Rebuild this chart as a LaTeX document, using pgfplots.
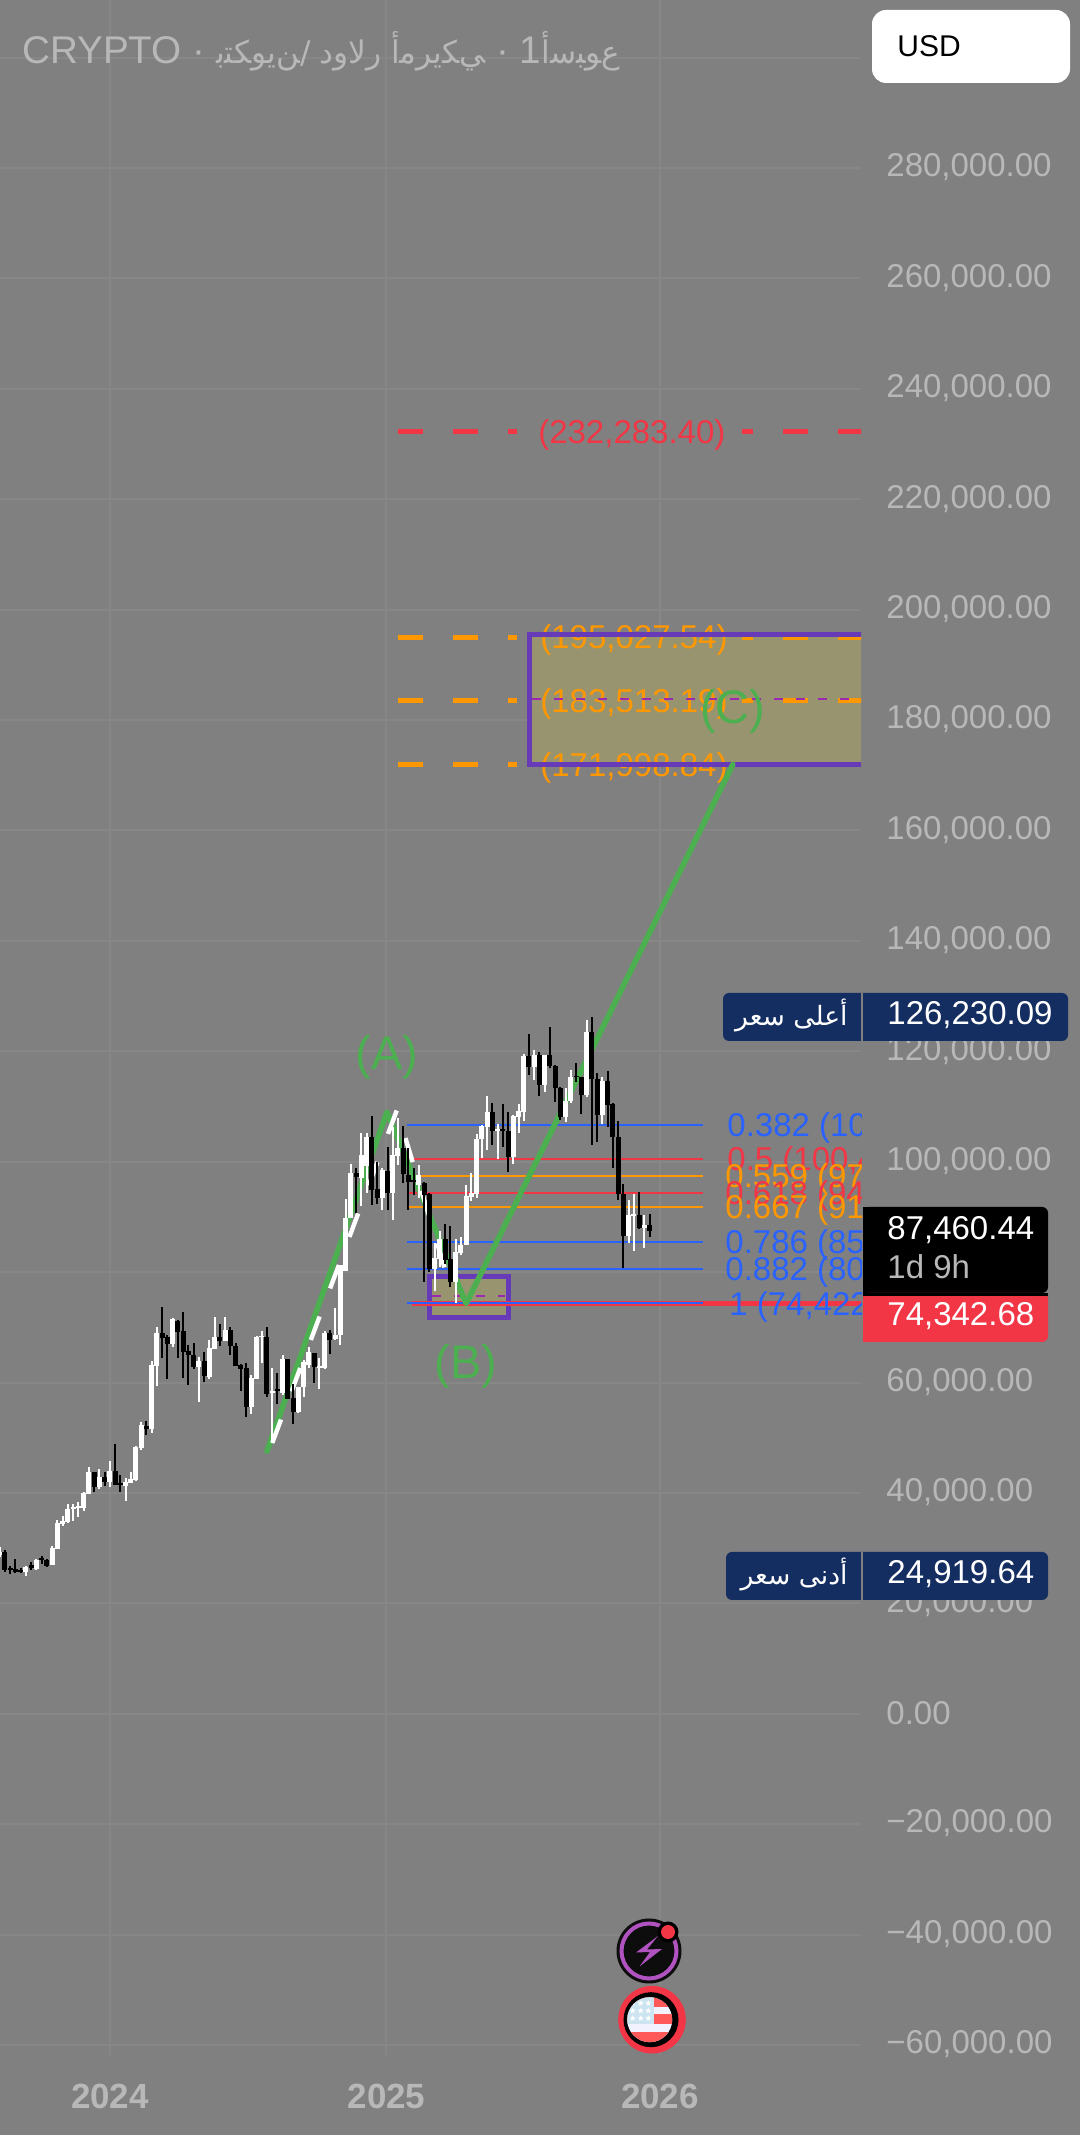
\documentclass[border=0pt]{standalone}
\usepackage{fontspec}
\usepackage{pgfplots}
\usepackage{pgfplotstable}
\usetikzlibrary{shapes.geometric}
\pgfplotsset{compat=1.18}
\setmainfont{Liberation Sans}
\newfontfamily\arabicfont[Script=Arabic]{DejaVu Sans}
\TeXXeTstate=1

\definecolor{pane}{HTML}{808080}
\definecolor{gridc}{HTML}{878787}
\definecolor{axistxt}{HTML}{B8B8B8}
\definecolor{orangec}{HTML}{FF9800}
\definecolor{redc}{HTML}{F23645}
\definecolor{bluec}{HTML}{2962FF}
\definecolor{greenc}{HTML}{4CAF50}
\definecolor{boxc}{HTML}{673AB7}
\definecolor{midc}{HTML}{9C27B0}
\definecolor{tan}{HTML}{999470}
\definecolor{navy}{HTML}{142E61}

% 1 px of the reference is 0.5pt here
\newcommand{\lbl}{\fontsize{16.5}{18}\selectfont}
\newcommand{\g}[1]{\char"#1\kern0pt }
\newcommand{\lab}[4]{\node[anchor=base west,inner sep=0pt,text=#1] at (#2,#3) {\lbl #4};}

% weekly candles, k = week index, x px = 5 + 5.24 k
\pgfplotstableread{
k o h l c
-1 28758 30268 28457 29362
4 25740 26766 24955 26645
6 26162 27974 26041 27853
9 26947 30388 26947 30087
10 29906 35098 29906 34495
11 34313 35823 34011 34917
12 34736 37997 34615 37030
13 37030 37997 34977 37393
14 37272 38359 35702 37634
15 37212 40170 36789 40049
16 39808 44638 39808 43793
18 41136 44276 40653 42827
20 41982 45725 41016 43914
23 41257 42646 38600 42042
24 41861 43793 41861 42465
25 42344 48503 42223 48382
26 48080 52850 47778 52246
28 51522 63839 50918 63175
29 62994 69998 59371 69032
32 66979 71689 66496 71447
37 62873 64564 56533 63839
39 61062 67704 60700 66194
40 66134 71809 66134 68307
42 67583 71809 67583 69515
47 55628 61364 54299 60760
48 60700 68428 60700 68187
49 68187 69394 63477 68428
51 58043 62572 48986 58526
53 58043 64926 57741 64322
56 54662 59130 54541 59130
57 59130 64081 57439 63779
58 63115 66375 62632 65530
60 62692 64443 58888 62994
61 62632 69274 62511 69032
63 67825 73440 67704 68609
64 68610 81290 66799 81290
65 80263 93185 80263 89743
66 89743 99585 89743 98015
68 97049 105200 91977 101215
69 99222 105200 94332 104475
72 93426 98860 91252 98498
74 94332 106287 89441 101215
75 101034 107917 99403 102483
79 95780 99404 93365 97592
82 80505 85214 76640 82497
83 82316 87508 80987 85939
86 78270 85939 74466 83706
87 83403 86301 83101 84912
88 84912 95780 84912 93788
89 93667 97894 92942 94271
90 94150 105019 93365 104113
91 104052 106649 100611 106468
92 106347 111902 102120 108943
94 105622 106830 100430 105924
97 100913 108460 99585 108340
98 108159 110453 105260 109185
99 109064 119510 107434 119147
101 117095 120234 114800 119268
103 113894 119329 112687 119268
107 108158 113290 107252 111056
108 111056 116611 110694 115283
111 112083 125668 111660 123555
114 108460 115283 106830 114679
119 86603 93063 85214 90346
120 90165 94150 83886 90527
122 88052 90346 84429 88535
}\upcandles

\pgfplotstableread{
k o h l c
0 29362 29664 25740 26041
1 26343 26766 25317 26041
2 26162 27974 25438 25740
3 26041 26343 25438 25740
5 26947 27551 26041 26343
7 28155 28578 27129 27853
8 27853 27974 26645 26766
17 43733 43854 40170 41136
19 42827 43793 41257 42042
21 43914 48865 41438 41499
22 41740 43310 40170 41499
27 52126 52971 50495 51642
30 68911 73621 64443 68066
31 68187 68670 60700 66979
33 71206 71326 64443 69213
34 69274 72776 60820 65590
35 65651 66738 59613 64926
36 64926 67100 62511 62873
38 63839 65530 60096 61183
41 68307 70602 66617 67583
43 69515 69998 65047 66617
44 66617 67100 62994 62994
45 63175 63356 58526 62511
46 62572 63597 53695 55628
50 68187 69998 57318 57923
52 58767 61666 56111 58526
54 64202 64322 57077 57077
55 57137 59733 52488 54722
59 65409 65409 59975 62752
62 68911 69515 65168 67704
67 97894 98800 90649 97170
70 104475 108279 92158 94875
71 95056 99947 92339 93426
73 98317 102664 91252 94332
76 102483 106468 96143 97773
77 97592 102422 91252 96384
78 96686 98800 93969 96384
80 96083 96384 78270 93969
81 94150 94270 80082 80505
84 85939 88716 81470 82195
85 82316 88353 77243 78270
93 108943 110573 103026 105622
95 105924 110453 102724 105622
96 105562 109003 98195 100913
100 119147 123132 115706 117095
102 119268 119932 111902 113894
104 119268 124461 116913 117336
105 117396 117517 110875 113290
106 113290 113472 107554 108158
109 115524 117819 114498 115283
110 115283 115404 108641 112083
112 123555 126151 103026 114921
113 114921 116008 103630 108460
115 114619 116430 106347 110272
116 110453 110573 98920 104535
117 104535 107373 93063 94150
118 94150 95962 80685 86603
121 90346 94573 87750 87931
123 88535 90527 86421 87460
}\downcandles

\pgfplotsset{
  wick/.style={draw=none,no marks,forget plot,
    error bars/.cd,y dir=plus,y explicit,error mark=none,
    error bar style={draw=#1,solid,line width=1pt}},
  body/.style={draw=none,no marks,forget plot,
    error bars/.cd,y dir=plus,y explicit,error mark=none,
    error bar style={draw=#1,solid,line width=2.5pt}},
  level/.style={forget plot,no marks,line width=1pt,draw=#1},
}

\begin{document}
\begin{tikzpicture}
\path[use as bounding box,fill=pane] (0,0) rectangle (540pt,1067.5pt);
\begin{axis}[
    at={(0pt,40pt)},anchor=south west,
    scale only axis,width=430.5pt,height=1027.5pt,
    xmin=-0.954,xmax=163.36,ymin=-61811,ymax=310432,
    axis line style={draw=none},
    major tick length=0pt,
    grid=major,
    grid style={draw=gridc,line width=1pt},
    xtick={20.04,72.8,125},
    xticklabels={2024,2025,2026},
    xticklabel style={font=\fontsize{17.5}{18}\selectfont\bfseries,text=axistxt,anchor=base,inner sep=0pt,yshift=-27pt},
    ytick={-60000,-40000,-20000,0,20000,40000,60000,80000,100000,120000,140000,160000,180000,200000,220000,240000,260000,280000,300000},
    yticklabels={{−60,000.00},{−40,000.00},{−20,000.00},{\raisebox{-1.2pt}{0.00}},{20,000.00},{40,000.00},{60,000.00},{80,000.00},{100,000.00},{120,000.00},{140,000.00},{160,000.00},{180,000.00},{200,000.00},{220,000.00},{240,000.00},{260,000.00},{280,000.00},{}},
    yticklabel pos=right,
    yticklabel style={font=\fontsize{16.5}{18}\selectfont,text=axistxt,anchor=base west,inner sep=0pt,xshift=12.5pt,yshift=-4.4pt},
    scaled y ticks=false,
]
% target zones
\addplot[forget plot,draw=none,fill=tan] coordinates {(100.1,195520) (170,195520) (170,171970) (100.1,171970)} -- cycle;
\addplot[forget plot,draw=none,fill=tan] coordinates {(81.1,79206) (96.1,79206) (96.1,71780) (81.1,71780)} -- cycle;

% projected levels
\foreach \col/\val in {redc/232283.40,orangec/195027.54,orangec/183513.19,orangec/171998.84}{
  \edef\tmp{\noexpand\addplot[level=\col,line width=2.5pt,dash pattern=on 12.5pt off 15pt] coordinates {(75,\val) (97.7,\val)};
    \noexpand\addplot[level=\col,line width=2.5pt,dash pattern=on 12.5pt off 15pt,dash phase=7pt] coordinates {(140.6,\val) (170,\val)};}
  \tmp
}
\node[anchor=base west,inner sep=0pt,text=redc] at (axis cs:101.7,230041) {\lbl (232,283.40)};
\node[anchor=base west,inner sep=0pt,text=orangec] at (axis cs:102.1,192907) {\lbl (195,027.54)};
\node[anchor=base west,inner sep=0pt,text=orangec] at (axis cs:102.1,181314) {\lbl (183,513.19)};
\node[anchor=base west,inner sep=0pt,text=orangec] at (axis cs:102.1,169722) {\lbl (171,998.84)};

% zone borders
\addplot[forget plot,draw=boxc,line width=2.5pt] coordinates {(170,195520) (100.1,195520) (100.1,171970) (170,171970)};
\addplot[forget plot,draw=boxc,line width=2.5pt] coordinates {(81.1,79206) (96.1,79206) (96.1,71780) (81.1,71780)} -- cycle;
\addplot[level=midc,dash pattern=on 4.5pt off 6.5pt] coordinates {(100.5,183810) (170,183810)};
\addplot[level=midc,dash pattern=on 4.5pt off 6.5pt] coordinates {(81.5,75670) (95.4,75670)};

% fib levels
\addplot[level=redc,line width=2.5pt] coordinates {(77.6,74240) (170,74240)};
\addplot[level=bluec] coordinates {(76.7,106650) (133.2,106650)};
\addplot[level=redc] coordinates {(76.7,100490) (133.2,100490)};
\addplot[level=orangec] coordinates {(76.7,97410) (133.2,97410)};
\addplot[level=redc] coordinates {(76.7,94380) (133.2,94380)};
\addplot[level=orangec] coordinates {(76.7,91790) (133.2,91790)};
\addplot[level=bluec] coordinates {(76.7,85450) (133.2,85450)};
\addplot[level=bluec] coordinates {(76.7,80560) (133.2,80560)};
\addplot[level=bluec] coordinates {(76.7,74400) (133.2,74400)};

% wave lines
\addplot[forget plot,no marks,draw=greenc,line width=2.8pt,line join=round,line cap=round]
  coordinates {(50,47600) (72.9,109000) (88,74300) (138.9,171950)};
\addplot[forget plot,no marks,draw=white,line width=2.2pt,dash pattern=on 12.5pt off 15pt]
  coordinates {(51,49050) (74.8,109370) (85.3,76400)};

% candles
\addplot[wick=white] table[x=k,y=l,y error plus expr=\thisrow{h}-\thisrow{l}] {\upcandles};
\addplot[body=white] table[x=k,y=o,y error plus expr=\thisrow{c}-\thisrow{o}] {\upcandles};
\addplot[wick=black] table[x=k,y=l,y error plus expr=\thisrow{h}-\thisrow{l}] {\downcandles};
\addplot[body=black] table[x=k,y=c,y error plus expr=\thisrow{o}-\thisrow{c}] {\downcandles};

% wave names
\node[anchor=base,inner sep=0pt,text=greenc] at (axis cs:72.9,116665) {\fontsize{23.5}{25}\selectfont (A)};
\node[anchor=base,inner sep=0pt,text=greenc] at (axis cs:88,60690) {\fontsize{23.5}{25}\selectfont (B)};
\node[anchor=base,inner sep=0pt,text=greenc] at (axis cs:138.9,179340) {\fontsize{23.5}{25}\selectfont (C)};
\end{axis}

% overlays, in reference pixels
\begin{scope}[x=0.5pt,y=-0.5pt,shift={(0pt,-2135)}]
\begin{scope}
\clip (700,1000) rectangle (861,1340);
\lab{bluec}{727}{1137}{0.382 (10}
\lab{redc}{727}{1171}{0.5 (100,4}
\lab{orangec}{725}{1188}{0.559 (97}
\lab{redc}{725}{1205}{0.618 (94}
\lab{orangec}{725}{1219}{0.667 (91}
\lab{bluec}{725}{1254}{0.786 (85}
\lab{bluec}{725}{1281}{0.882 (80}
\lab{bluec}{729}{1316}{1 (74,422}
\end{scope}

% title
\node[anchor=base west,inner sep=0pt,text=axistxt] at (22,63.5) {\fontsize{19.3}{20}\selectfont CRYPTO~·~{\arabicfont\fontsize{15.6}{20}\selectfont
  \g{FE91}\g{FE98}\g{FEDC}\g{FEEE}\g{FEF3}\g{FEE6}/\hspace{0.3em}\g{FEA9}\g{FEED}\g{FEFB}\g{FEAD}\hspace{0.3em}\g{FE83}\g{FEE3}\g{FEAE}\g{FEF3}\g{FEDC}\g{FEF2}}~·~1{\arabicfont\fontsize{15.6}{20}\selectfont\g{FE83}\g{FEB3}\g{FE92}\g{FEEE}\g{FEC9}}};

% currency button
\fill[white,rounded corners=7pt] (872,10) rectangle (1070,83);
\node[anchor=base west,inner sep=0pt,text=black] at (897,57) {\fontsize{15}{18}\selectfont USD};

% high and low flags
\fill[navy,rounded corners=3pt] (723,993) rectangle (1068,1041);
\draw[pane,line width=1pt] (861.7,993) -- (861.7,1041);
\lab{white}{887}{1025}{126,230.09}
\node[anchor=base east,inner sep=0pt,text=white] at (848,1026) {\arabicfont\fontsize{13.3}{18}\selectfont\beginR أعلى سعر\endR};
\fill[navy,rounded corners=3pt] (726,1552) rectangle (1048,1600);
\draw[pane,line width=1pt] (861.7,1552) -- (861.7,1600);
\lab{white}{887}{1584}{24,919.64}
\node[anchor=base east,inner sep=0pt,text=white] at (848,1585) {\arabicfont\fontsize{13.3}{18}\selectfont\beginR أدنى سعر\endR};

% last price flag
\fill[black,rounded corners=3pt] (863,1207) rectangle (1048,1293);
\fill[black] (863,1207) rectangle (880,1293);
\fill[redc,rounded corners=3pt] (863,1293) rectangle (1048,1342);
\fill[redc] (863,1293) rectangle (880,1342);
\fill[black] (863,1293) rectangle (1048,1296);
\lab{white}{887}{1240}{87,460.44}
\lab{axistxt}{887}{1279}{1d 9h}
\lab{white}{887}{1326}{74,342.68}

% event icons
\fill[black!95] (649,1951) circle[radius=32.5];
\draw[midc!80!white,line width=2pt] (649,1951) circle[radius=27.5];
\fill[midc!80!white] (658,1936) -- (636,1952.5) -- (650,1952) -- (639.5,1966.5) -- (662,1949) -- (647,1949.5) -- cycle;
\fill[black] (668,1932) circle[radius=10.5];
\fill[redc] (668,1932) circle[radius=7];
\fill[redc] (652,2019.7) circle[radius=33.8];
\fill[black] (651,2019.7) circle[radius=27.5];
\begin{scope}
\clip (649.7,2019.7) circle[radius=22.5];
\fill[white!95!blue] (620,1990) rectangle (680,2050);
\fill[red!65!white] (620,1990) rectangle (680,2006.7);
\fill[red!65!white] (620,2014.3) rectangle (680,2024);
\fill[red!65!white] (620,2032.3) rectangle (680,2050);
\fill[blue!30!cyan!70!black!20!white] (620,1990) rectangle (654,2024);
\foreach \sx in {632.7,640.7,648.3}\foreach \sy in {2003.3,2010.7,2018.3}
  \node[star,star points=5,star point ratio=2.2,fill=white,inner sep=0pt,minimum size=3pt] at (\sx,\sy) {};
\end{scope}
\end{scope}
\end{tikzpicture}
\end{document}
